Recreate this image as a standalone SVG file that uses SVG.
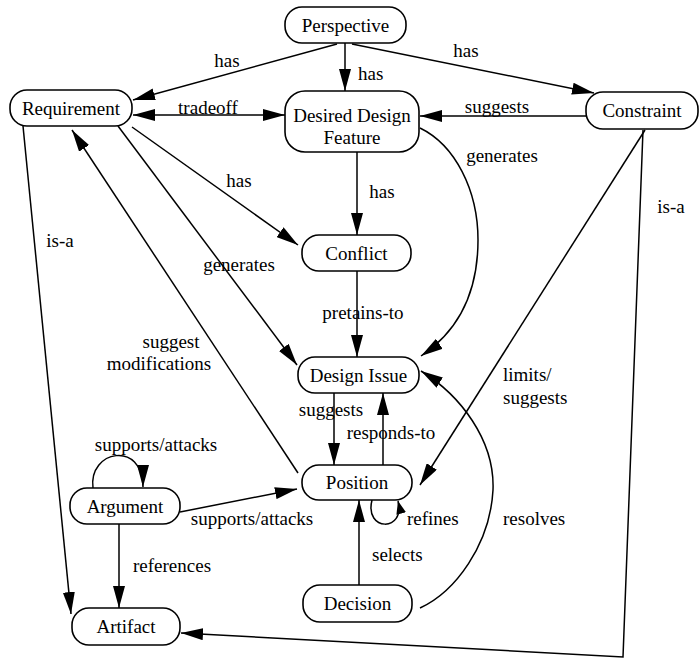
<svg xmlns="http://www.w3.org/2000/svg" width="699" height="659" viewBox="0 0 699 659" font-family="'Liberation Serif', 'Times New Roman', serif" font-size="19">
<style>
.node rect{fill:#fff;stroke:#000;stroke-width:1.6}
text{font-family:"Liberation Serif","Times New Roman",serif;font-size:19px;fill:#000}
.node text{text-anchor:middle}
.m{text-anchor:middle}
#edges path{fill:none;stroke:#000;stroke-width:1.5}
.a{marker-end:url(#ah)}
.s{marker-end:url(#as)}
</style>
<defs>
<marker id="ah" markerUnits="userSpaceOnUse" markerWidth="22" markerHeight="12" refX="22" refY="6" orient="auto-start-reverse" viewBox="0 0 22 12">
<path d="M0,0 L22,6 L0,12 z" fill="#000"/>
</marker>
<marker id="as" markerUnits="userSpaceOnUse" markerWidth="13" markerHeight="10" refX="13" refY="5" orient="auto" viewBox="0 0 13 10">
<path d="M0,0 L13,5 L0,10 z" fill="#000"/>
</marker>
</defs>
<rect width="699" height="659" fill="#fff"/>
<g id="edges">
<path class="a" d="M337,44 L133,100"/>
<path class="a" d="M345,43 L345,91"/>
<path class="a" d="M352,44 L594,93"/>
<path class="a" d="M133,115 L285,115" marker-start="url(#ah)"/>
<path class="a" d="M586,116 L420,116"/>
<path class="a" d="M420,128 C455,145 478,190 478,240 C478,290 460,330 421,356"/>
<path class="a" d="M357,152 L357,235"/>
<path class="a" d="M132,127 L298,245"/>
<path class="a" d="M118,126 L297,365"/>
<path class="a" d="M298,473 L72,130"/>
<path class="a" d="M23,126 L71,614"/>
<path class="a" d="M357,271 L357,357"/>
<path class="a" d="M334,393 L334,465"/>
<path class="a" d="M383,465 L383,393"/>
<path class="a" d="M645,130 L420,485"/>
<path class="a" d="M643,130 L623,657 L181,633"/>
<path class="s" d="M372,500 C364,532 406,532 398,501"/>
<path class="a" d="M359,585 L359,500"/>
<path class="a" d="M420,608 C455,592 490,545 493,490 C495,440 460,395 421,371"/>
<path class="a" d="M93,488 C88,450 143,440 143,487"/>
<path class="a" d="M180,512 L297,489"/>
<path class="a" d="M119,524 L119,608"/>
</g>
<g id="edge-labels" font-family="'Liberation Serif', 'Times New Roman', serif" font-size="19">
<text class="m" x="227" y="67">has</text>
<text x="358" y="80">has</text>
<text class="m" x="466" y="57">has</text>
<text class="m" x="208" y="114">tradeoff</text>
<text class="m" x="497" y="113">suggests</text>
<text class="m" x="502" y="162">generates</text>
<text class="m" x="382" y="198">has</text>
<text class="m" x="239" y="187">has</text>
<text class="m" x="239" y="271">generates</text>
<text class="m" x="60" y="247">is-a</text>
<text class="m" x="171" y="348">suggest</text>
<text class="m" x="159" y="370">modifications</text>
<text class="m" x="363" y="319">pretains-to</text>
<text class="m" x="331" y="416">suggests</text>
<text class="m" x="391" y="439">responds-to</text>
<text x="503" y="381">limits/</text>
<text x="503" y="404">suggests</text>
<text class="m" x="671" y="213">is-a</text>
<text x="407" y="525">refines</text>
<text x="372" y="561">selects</text>
<text x="503" y="525">resolves</text>
<text class="m" x="156" y="451">supports/attacks</text>
<text class="m" x="252" y="525">supports/attacks</text>
<text x="133" y="572">references</text>
</g>
<g id="perspective" class="node"><rect x="285" y="7" width="121" height="36" rx="17"/><text x="345.5" y="32">Perspective</text></g>
<g id="requirement" class="node"><rect x="10" y="90" width="122" height="36" rx="17"/><text x="71" y="115">Requirement</text></g>
<g id="desired-design-feature" class="node"><rect x="285" y="91" width="134" height="61" rx="20"/><text x="352" y="122">Desired Design</text><text x="352" y="144">Feature</text></g>
<g id="constraint" class="node"><rect x="586" y="92" width="112" height="37" rx="17"/><text x="642" y="117">Constraint</text></g>
<g id="conflict" class="node"><rect x="302" y="235" width="109" height="36" rx="17"/><text x="356.5" y="260">Conflict</text></g>
<g id="design-issue" class="node"><rect x="298" y="357" width="121" height="36" rx="17"/><text x="358.5" y="382">Design Issue</text></g>
<g id="position" class="node"><rect x="302" y="465" width="110" height="35" rx="17"/><text x="357" y="489">Position</text></g>
<g id="decision" class="node"><rect x="303" y="585" width="109" height="37" rx="17"/><text x="357.5" y="610">Decision</text></g>
<g id="argument" class="node"><rect x="70" y="488" width="110" height="36" rx="17"/><text x="125" y="513">Argument</text></g>
<g id="artifact" class="node"><rect x="72" y="608" width="108" height="37" rx="17"/><text x="126" y="633">Artifact</text></g>
</svg>
